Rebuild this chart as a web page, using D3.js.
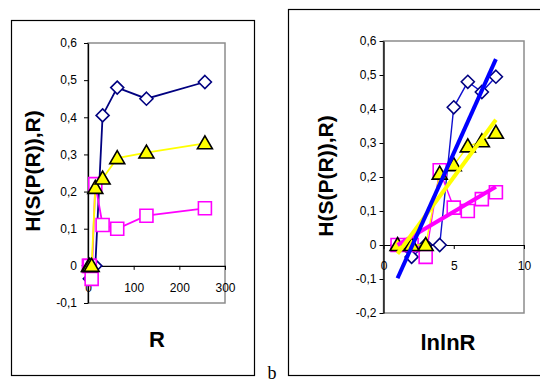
<!DOCTYPE html>
<html>
<head>
<meta charset="utf-8">
<script src="https://cdn.jsdelivr.net/npm/d3@7"></script>
<style>
  html, body { margin: 0; padding: 0; background: #fff; }
  svg { display: block; font-family: Arial, "Liberation Sans", sans-serif; }
</style>
</head>
<body>
<svg id="chart" width="540" height="385"></svg>
<script>
// Sample sizes R and their transformed abscissa
const R = [2, 4, 8, 16, 32, 64, 128, 256];
const lnlnR = [1, 2, 3, 4, 5, 6, 7, 8];

// H(S(P(R)),R) for the three series
const diamondValues  = [0, -0.035, 0, 0, 0.405, 0.48, 0.45, 0.495];
const squareValues   = [0, 0, -0.035, 0.22, 0.11, 0.10, 0.135, 0.155];
const triangleValues = [0, 0, 0, 0.21, 0.235, 0.29, 0.305, 0.33];

// Axis ticks
const leftXTicks = [0, 100, 200, 300];
const leftYTicks = [-0.1, 0, 0.1, 0.2, 0.3, 0.4, 0.5, 0.6];
const rightXTicks = [0, 5, 10];
const rightYTicks = [-0.2, -0.1, 0, 0.1, 0.2, 0.3, 0.4, 0.5, 0.6];

const svg = d3.select("#chart");

const fmt = d => (Math.abs(d) < 1e-9 ? "0" : String(+d.toFixed(1)).replace(".", ","));

const markerPaths = {
  diamond: "M0,-6.5L6.5,0L0,6.5L-6.5,0Z",
  square: "M-6.5,-6.5H6.5V6.5H-6.5Z",
  triangle: "M0,-7.5L7.5,5.5L-7.5,5.5Z"
};

const seriesDefs = [
  { values: diamondValues,  marker: "diamond",  line: "#000080", lineRight: "#1010d0", stroke: "#000080", fill: "#ffffff", trend: "#0000ff" },
  { values: squareValues,   marker: "square",   line: "#ff00ff", lineRight: "#ff00ff", stroke: "#ff00ff", fill: "#ffffff", trend: "#ff00ff" },
  { values: triangleValues, marker: "triangle", line: "#ffff00", lineRight: "#ffff00", stroke: "#000000", fill: "#ffff00", trend: "#ffff00" }
];

function drawPanel(cfg) {
  const g = svg.append("g");
  const x = d3.scaleLinear().domain(cfg.xDomain).range([cfg.x0, cfg.x1]);
  const y = d3.scaleLinear().domain(cfg.yDomain).range([cfg.y1, cfg.y0]);

  // outer frame
  g.append("rect")
    .attr("x", cfg.box[0]).attr("y", cfg.box[1])
    .attr("width", cfg.box[2]).attr("height", cfg.box[3])
    .attr("fill", "none").attr("stroke", "#000").attr("stroke-width", 1.2);

  // plot area frame
  g.append("rect")
    .attr("x", cfg.x0).attr("y", cfg.y0)
    .attr("width", cfg.x1 - cfg.x0).attr("height", cfg.y1 - cfg.y0)
    .attr("fill", "none").attr("stroke", "#8c8c8c").attr("stroke-width", 1.5);

  // y axis
  const yAxis = g.append("g")
    .attr("transform", `translate(${cfg.x0},0)`)
    .call(d3.axisLeft(y).tickValues(cfg.yTicks).tickFormat(fmt).tickSize(4).tickSizeOuter(0).tickPadding(cfg.yPad));
  yAxis.select(".domain").attr("stroke", "#000").attr("stroke-width", 1.3);
  yAxis.selectAll(".tick line").attr("stroke", "#000");
  yAxis.selectAll("text").attr("font-size", 12).attr("fill", "#000")
    .attr("font-family", "Arial, 'Liberation Sans', sans-serif");

  // x axis at y = 0
  const xAxis = g.append("g")
    .attr("transform", `translate(0,${y(0)})`)
    .call(d3.axisBottom(x).tickValues(cfg.xTicks).tickFormat(fmt).tickSize(4).tickSizeOuter(0).tickPadding(cfg.xPad));
  xAxis.select(".domain").attr("stroke", "#000").attr("stroke-width", 1.2);
  xAxis.selectAll(".tick line").attr("stroke", "#000");
  xAxis.selectAll("text").attr("font-size", 12).attr("fill", "#000")
    .attr("font-family", "Arial, 'Liberation Sans', sans-serif");

  const xs = cfg.xValues;

  // series: line then markers
  seriesDefs.forEach(s => {
    const pts = xs.map((xv, i) => [x(xv), y(s.values[i])]);
    g.append("path")
      .attr("d", d3.line()(pts))
      .attr("fill", "none")
      .attr("stroke", cfg.trend ? s.lineRight : s.line)
      .attr("stroke-width", cfg.trend ? 1.4 : 1.8);
    g.selectAll(null).data(pts).enter().append("path")
      .attr("transform", d => `translate(${d[0]},${d[1]})`)
      .attr("d", markerPaths[s.marker])
      .attr("fill", s.fill)
      .attr("stroke", s.stroke)
      .attr("stroke-width", 1.6);
  });

  // least-squares trend lines
  if (cfg.trend) {
    [1, 2, 0].forEach(k => {
      const s = seriesDefs[k];
      const mx = d3.mean(xs), my = d3.mean(s.values);
      const sxy = d3.sum(xs, (xv, i) => (xv - mx) * (s.values[i] - my));
      const sxx = d3.sum(xs, xv => (xv - mx) * (xv - mx));
      const slope = sxy / sxx, icpt = my - slope * mx;
      const xa = d3.min(xs), xb = d3.max(xs);
      g.append("line")
        .attr("x1", x(xa)).attr("y1", y(icpt + slope * xa))
        .attr("x2", x(xb)).attr("y2", y(icpt + slope * xb))
        .attr("stroke", s.trend).attr("stroke-width", 4);
    });
  }

  // axis titles
  g.append("text")
    .attr("transform", `translate(${cfg.yTitle[0]},${cfg.yTitle[1]}) rotate(-90)`)
    .attr("text-anchor", "middle")
    .attr("font-size", 21).attr("font-weight", "bold")
    .text("H(S(P(R)),R)");
  g.append("text")
    .attr("x", cfg.xTitle[0]).attr("y", cfg.xTitle[1])
    .attr("text-anchor", "middle")
    .attr("font-size", 22).attr("font-weight", "bold")
    .text(cfg.xLabel);
}

drawPanel({
  box: [11.5, 20.5, 243, 355],
  x0: 88, x1: 225, y0: 43, y1: 303,
  xDomain: [0, 300], yDomain: [-0.1, 0.6],
  xTicks: leftXTicks, yTicks: leftYTicks,
  xValues: R, yPad: 7, xPad: 14,
  yTitle: [40, 171], xTitle: [157, 347], xLabel: "R",
  trend: false
});

drawPanel({
  box: [288.5, 9.5, 280, 366],
  x0: 383.5, x1: 524, y0: 41, y1: 313,
  xDomain: [0, 10], yDomain: [-0.2, 0.6],
  xTicks: rightXTicks, yTicks: rightYTicks,
  xValues: lnlnR, yPad: 3, xPad: 12,
  yTitle: [333, 176], xTitle: [448, 350], xLabel: "lnlnR",
  trend: true
});

// panel letter
svg.append("text")
  .attr("x", 272).attr("y", 379)
  .attr("text-anchor", "middle")
  .attr("font-family", "'Liberation Serif', 'Times New Roman', serif")
  .attr("font-size", 18)
  .text("b");
</script>
</body>
</html>
